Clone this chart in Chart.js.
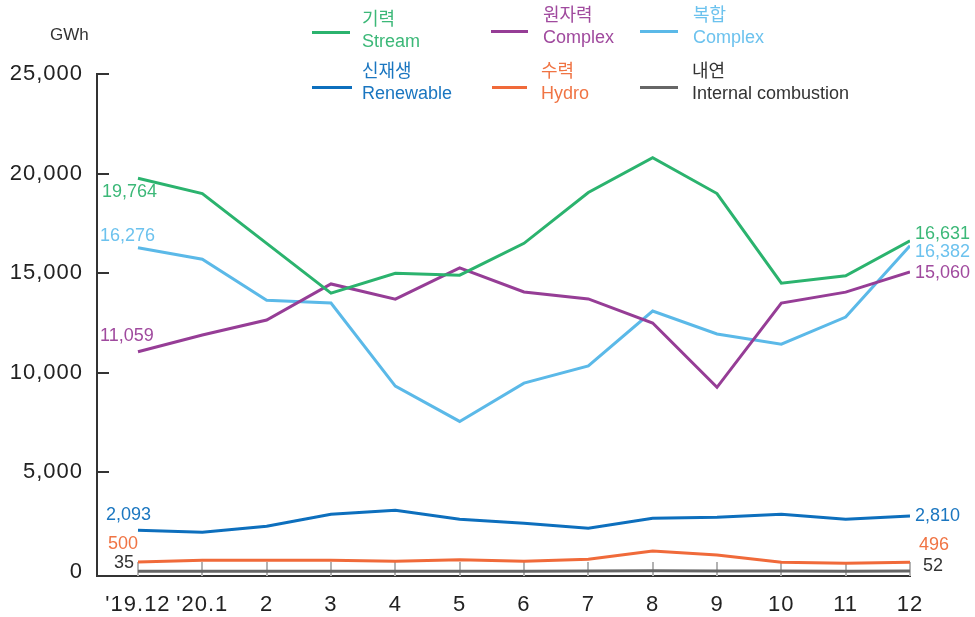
<!DOCTYPE html>
<html><head><meta charset="utf-8">
<script src="https://cdn.jsdelivr.net/npm/chart.js@4.4.1/dist/chart.umd.min.js"></script>
<style>
html,body{margin:0;padding:0;background:#fff;}
#wrap{position:relative;width:975px;height:617px;overflow:hidden;font-family:"Liberation Sans","Noto Sans CJK KR",sans-serif;}
#c{position:absolute;left:0;top:0;}
.leg{position:absolute;font-size:18px;line-height:22px;white-space:nowrap;}
.sw{position:absolute;height:3px;}
.unit{position:absolute;left:50px;top:25px;font-size:17px;color:#333;}
</style></head>
<body>
<div id="wrap">
<canvas id="c" width="975" height="617"></canvas>
<div class="unit">GWh</div>
</div>
<script>
// ---- data ----
const categories = ["'19.12", "'20.1", "2", "3", "4", "5", "6", "7", "8", "9", "10", "11", "12"];
const stream    = [19764, 19000, 16500, 14000, 15000, 14900, 16500, 19050, 20800, 19000, 14500, 14870, 16631];
const nuclear   = [11059, 11900, 12650, 14460, 13700, 15270, 14060, 13710, 12500, 9270, 13500, 14050, 15060];
const combined  = [16276, 15700, 13640, 13500, 9330, 7560, 9480, 10350, 13100, 11950, 11440, 12800, 16382];
const renewable = [2093, 2000, 2300, 2900, 3100, 2650, 2450, 2200, 2700, 2750, 2900, 2650, 2810];
const hydro     = [500, 590, 590, 590, 540, 620, 540, 640, 1050, 850, 490, 440, 496];
const internal  = [35, 38, 40, 42, 40, 38, 44, 48, 60, 56, 46, 44, 52];
const yTicks = [0, 5000, 10000, 15000, 20000, 25000];
const namesKo = ["기력", "원자력", "복합", "신재생", "수력", "내연"];
const namesEn = ["Stream", "Complex", "Complex", "Renewable", "Hydro", "Internal combustion"];

// ---- styles ----
const lineColors = ["#2bb36e", "#963d96", "#5bb9e8", "#0d6fbd", "#f06a3a", "#666666"];
const textColors = ["#3cb878", "#a04a9e", "#6cc2ee", "#1a76c0", "#f07444", "#333333"];
const seriesData = [stream, nuclear, combined, renewable, hydro, internal];
// legend layout: [lineLeft, lineWidth, lineTop, textLeft, textTop]
const legendPos = [
  [312, 38, 31, 362, 8], [491, 37, 30, 543, 4], [640, 38, 30, 693, 4],
  [312, 40, 86, 362, 60], [492, 35, 86, 541, 60], [640, 38, 86, 692, 60]
];
// value label offsets [startAlign, startDx, startDy, endDx, endDy]
const labelPos = [
  ["left", -36, 14, 5, -7],
  ["left", -38, -16, 5, 1],
  ["left", -38, -12, 5, 6],
  ["left", -32, -15, 5, 0],
  ["left", -30, -18, 9, -17],
  ["right", -4, -8, 13, -5]
];

const wrap = document.getElementById('wrap');
legendPos.forEach((p, i) => {
  const sw = document.createElement('div');
  sw.className = 'sw';
  sw.style.cssText = `left:${p[0]}px;width:${p[1]}px;top:${p[2]}px;background:${lineColors[i]};`;
  wrap.appendChild(sw);
  const t = document.createElement('div');
  t.className = 'leg';
  t.style.cssText = `left:${p[3]}px;top:${p[4]}px;color:${textColors[i]};`;
  t.innerHTML = `<div>${namesKo[i]}</div><div>${namesEn[i]}</div>`;
  wrap.appendChild(t);
});

const FONT = '"Liberation Sans","Noto Sans CJK KR",sans-serif';

const marks = {
  id: 'marks',
  beforeDraw(chart) { chart.ctx.letterSpacing = '1px'; },
  beforeDatasetsDraw(chart) {
    const ctx = chart.ctx, x = chart.scales.x, y = chart.scales.y, a = chart.chartArea;
    ctx.save();
    ctx.strokeStyle = '#b3b3b3';
    ctx.lineWidth = 2;
    categories.forEach((c, i) => {
      const px = Math.round(x.getPixelForValue(i));
      ctx.beginPath(); ctx.moveTo(px, a.bottom); ctx.lineTo(px, a.bottom - 14); ctx.stroke();
    });
    ctx.strokeStyle = '#333';
    yTicks.forEach(v => {
      if (v <= 0) return;
      const py = Math.round(y.getPixelForValue(v));
      ctx.beginPath(); ctx.moveTo(a.left, py); ctx.lineTo(a.left + 12, py); ctx.stroke();
    });
    ctx.restore();
  },
  afterDatasetsDraw(chart) {
    const ctx = chart.ctx;
    ctx.save();
    ctx.letterSpacing = '0px';
    ctx.font = '18px ' + FONT;
    ctx.textBaseline = 'middle';
    seriesData.forEach((d, i) => {
      const meta = chart.getDatasetMeta(i);
      const p0 = meta.data[0], pN = meta.data[meta.data.length - 1];
      const L = labelPos[i];
      ctx.fillStyle = textColors[i];
      ctx.textAlign = L[0];
      ctx.fillText(d[0].toLocaleString('en-US'), p0.x + L[1], p0.y + L[2]);
      ctx.textAlign = 'left';
      ctx.fillText(d[d.length - 1].toLocaleString('en-US'), pN.x + L[3], pN.y + L[4]);
    });
    ctx.restore();
  }
};

new Chart(document.getElementById('c'), {
  type: 'line',
  data: {
    datasets: seriesData.map((d, i) => ({
      label: namesEn[i],
      data: d.map((v, k) => ({ x: k, y: v })),
      borderColor: lineColors[i],
      backgroundColor: lineColors[i],
      borderWidth: 3,
      pointRadius: 0,
      tension: 0,
      fill: false
    }))
  },
  options: {
    responsive: false,
    animation: false,
    devicePixelRatio: 1,
    layout: { padding: { left: 0, right: 65, top: 74, bottom: 0 } },
    plugins: { legend: { display: false }, tooltip: { enabled: false } },
    scales: {
      x: {
        type: 'linear',
        min: -0.637, max: 12,
        afterBuildTicks: s => { s.ticks = categories.map((c, i) => ({ value: i })); },
        afterFit: s => { s.height = 41; },
        grid: { drawOnChartArea: false, drawTicks: false },
        border: { color: '#333', width: 2 },
        ticks: {
          padding: 16, color: '#222', font: { size: 22, family: FONT },
          callback: v => categories[v], maxRotation: 0, autoSkip: false
        }
      },
      y: {
        min: -200, max: 25000,
        afterBuildTicks: s => { s.ticks = yTicks.map(v => ({ value: v })); },
        afterFit: s => { s.width = 97; },
        grid: { drawOnChartArea: false, drawTicks: false },
        border: { color: '#333', width: 2 },
        ticks: {
          padding: 14, color: '#222', font: { size: 22, family: FONT },
          callback: v => v.toLocaleString('en-US')
        }
      }
    }
  },
  plugins: [marks]
});
</script>
</body></html>
